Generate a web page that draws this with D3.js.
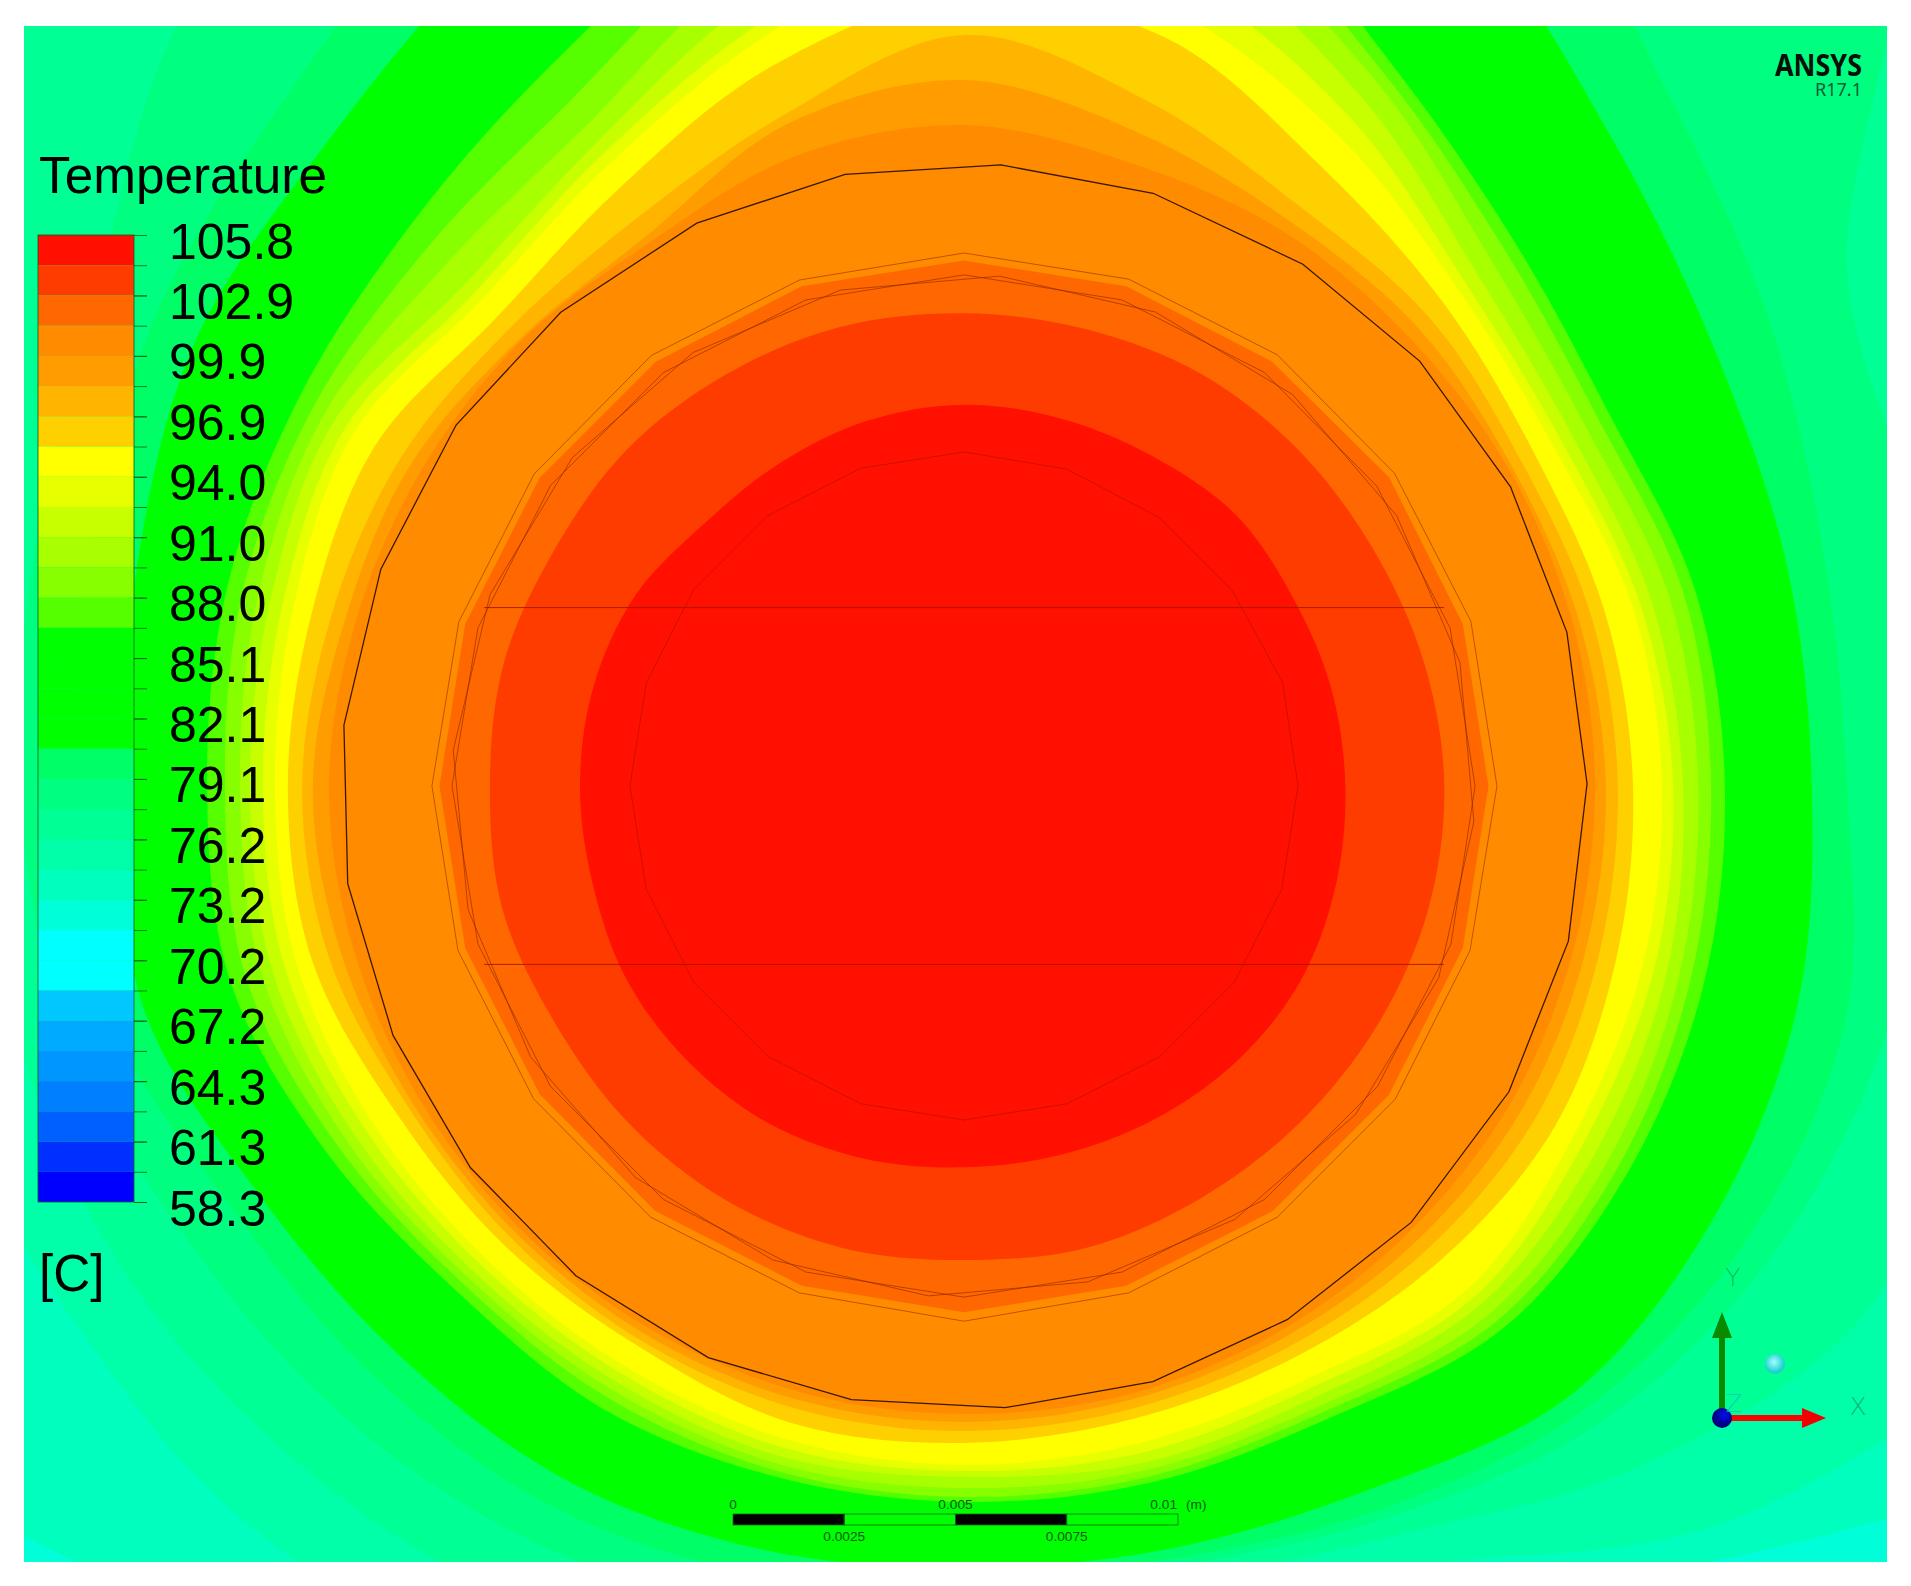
<!DOCTYPE html>
<html>
<head>
<meta charset="utf-8">
<script src="https://cdn.jsdelivr.net/npm/d3@7"></script>
<style>
  html, body { margin: 0; padding: 0; background: #fff; }
  svg { display: block; }
  text { font-family: "Liberation Sans", Arial, sans-serif; }
</style>
</head>
<body>
<svg id="chart" width="1911" height="1586"></svg>
<script>
// legend
const tickLabels = [105.8, 102.9, 99.9, 96.9, 94.0, 91.0, 88.0, 85.1, 82.1, 79.1, 76.2, 73.2, 70.2, 67.2, 64.3, 61.3, 58.3]
const bandColors = [
  "#ff1000", "#ff3c00", "#ff6800", "#ff8c00", "#ff9c00", "#ffb400", "#ffd000", "#ffff00",
  "#e8ff00", "#c8ff00", "#a8ff00", "#88ff00", "#55ff00", "#00ff00", "#00ff00", "#00ff00",
  "#00ff00", "#00ff66", "#00ff80", "#00ff94", "#00ffa8", "#00ffbe", "#00ffd8", "#00ffff",
  "#00ffff", "#00c8ff", "#00aaff", "#0096ff", "#0080ff", "#0060ff", "#0030ff", "#0000ff"]

// isotherm radii in mm from the axis, one value every 15 deg, clockwise from +Y
const r104 = [8.55,8.52,8.52,8.61,8.50,8.52,8.55,8.63,8.72,8.69,8.61,8.55,8.55,8.65,8.74,8.74,8.72,8.61,8.61,8.60,8.52,8.28,8.33,8.47]
const r103 = [10.60,10.60,10.66,10.63,10.60,10.68,10.77,10.77,10.71,10.66,10.66,10.71,10.63,10.71,10.71,10.66,10.60,10.71,10.63,10.68,10.60,10.68,10.66,10.66]
const r100 = [14.82,14.46,14.35,14.17,14.13,14.13,14.15,14.15,14.17,14.13,14.13,14.13,14.08,14.08,14.06,14.06,14.08,14.17,14.24,14.13,14.08,14.08,14.08,14.62]
const r98 = [15.83,15.16,14.62,14.46,14.22,14.28,14.39,14.42,14.46,14.39,14.30,14.26,14.26,14.26,14.22,14.19,14.26,14.46,14.60,14.37,14.35,14.13,14.24,15.36]
const r97 = [16.84,15.90,15.02,14.80,14.46,14.57,14.66,14.73,14.82,14.69,14.53,14.46,14.46,14.46,14.39,14.35,14.39,14.75,14.84,14.69,14.62,14.46,14.69,15.58]
const r95 = [17.71,17.38,16.03,15.25,14.80,14.89,15.00,15.13,15.29,15.07,14.80,14.69,14.73,14.80,14.53,14.57,14.69,15.13,15.16,15.13,15.25,14.84,15.47,16.70]
const r94 = [19.06,18.05,16.82,15.70,15.25,15.52,15.65,15.74,15.76,15.96,15.36,15.25,15.22,15.18,15.07,15.07,15.25,15.49,15.45,15.56,15.81,15.36,16.03,17.38]
const r92 = [19.62,18.72,17.31,15.92,15.47,15.70,15.90,16.01,16.03,16.19,15.58,15.47,15.36,15.38,15.25,15.25,15.47,15.76,15.72,15.81,16.03,15.58,16.30,17.71]
const r91 = [20.18,19.51,17.83,16.26,15.74,15.96,16.12,16.30,16.37,16.41,15.81,15.70,15.49,15.58,15.47,15.47,15.74,16.05,16.01,16.10,16.32,15.87,16.59,18.27]
const r89 = [20.74,20.18,18.34,16.70,16.10,16.37,16.46,16.59,16.70,16.70,16.03,15.87,15.74,15.76,15.67,15.65,15.96,16.30,16.23,16.39,16.59,16.48,17.04,18.95]
const r88 = [21.30,20.85,18.61,17.09,16.43,16.70,16.75,16.86,16.97,16.93,16.19,16.03,15.94,15.92,15.87,15.83,16.19,16.66,16.57,16.75,16.88,17.04,17.71,19.62]
const r86 = [21.86,21.52,18.90,17.38,16.70,16.97,17.06,17.17,17.22,17.15,16.37,16.17,16.05,16.05,16.14,16.05,16.48,17.02,16.97,17.11,17.26,17.65,18.61,20.29]
const r80 = [23.54,23.54,22.42,20.54,19.46,19.10,19.01,19.33,19.40,19.28,18.21,17.71,17.53,17.71,17.94,17.98,18.27,19.06,18.83,19.19,19.91,20.29,21.52,23.54]
const r79 = [24.66,24.66,24.66,22.20,20.85,19.96,19.80,20.45,20.29,19.73,18.72,17.94,17.83,18.27,18.61,18.72,18.95,19.84,19.96,20.29,20.96,21.64,23.09,24.66]
const r77 = [25.78,25.78,25.78,29.15,22.87,22.09,21.52,21.41,20.96,20.18,18.95,18.12,18.16,19.06,19.51,19.84,20.18,20.85,21.19,21.52,22.42,24.66,25.78,25.78]
const r76 = [28.03,28.03,28.03,31.39,29.15,29.15,26.91,23.32,23.43,21.52,19.39,18.50,18.61,19.96,20.85,21.30,21.75,21.97,22.42,23.54,25.78,31.39,28.03,28.03]
const r74 = [31.39,31.39,31.39,31.39,31.39,31.39,31.39,31.39,26.46,23.54,20.18,19.06,19.28,21.52,22.42,23.09,23.32,24.22,25.78,28.03,31.39,31.39,31.39,31.39]
const r73 = [33.63,33.63,33.63,33.63,33.63,33.63,33.63,33.63,29.15,24.44,20.74,19.96,20.18,23.54,24.66,25.78,29.15,33.63,33.63,33.63,33.63,33.63,33.63,33.63]

// solid outlines in mm, one radius per polygon vertex
const r101 = [11.78,11.78,11.76,11.78,11.76,11.76,11.76,11.78,11.78,11.78,11.80,11.78,11.78,11.76,11.76,11.76,11.76,11.76,11.76,11.78]
const casingAngles = [3.4,17.7,33,47,61.3,75.7,89.8,104.4,119.3,134.3,148.8,162.4,176.2,190.4,204.1,218.4,232.3,246.4,261,275.6,290.4,305.4,319.6,334.6,349]
const casingRadii = [13.95,13.95,13.95,13.97,13.97,13.95,13.97,13.99,14.01,14.01,13.99,14.01,13.97,13.99,14.04,14.01,13.99,13.97,13.99,13.97,13.95,13.97,13.95,13.97,13.97]
const sleeveRadii = [11.95,11.95,11.95,11.93,11.95,11.95,11.93,11.95,11.95,11.95,12.00,11.95,11.95,11.93,11.93,11.93,11.91,11.91,11.93,11.93]
const liningRadii = [11.46,11.46,11.46,11.44,11.46,11.46,11.48,11.46,11.46,11.46,11.46,11.46,11.46,11.46,11.46,11.48,11.46,11.46,11.46,11.46]
const coreRadii = [7.49,7.47,7.44,7.44,7.51,7.49,7.49,7.49,7.49,7.49,7.49,7.49,7.49,7.49,7.49,7.49,7.49,7.49,7.49,7.49]
const chordOffsets = [4.0, -4.0]
const chordHalfWidth = 10.76

const scaleBarTicks = [0, 0.0025, 0.005, 0.0075, 0.01]

const frame = {left: 24, right: 1887, top: 26, bottom: 1562}
const pxPerMm = 44.6
const centerX = 964, centerY = 786

const x = d3.scaleLinear().domain([(frame.left - centerX) / pxPerMm, (frame.right - centerX) / pxPerMm]).range([frame.left, frame.right])
const y = d3.scaleLinear().domain([(centerY - frame.top) / pxPerMm, (centerY - frame.bottom) / pxPerMm]).range([frame.top, frame.bottom])
const r = d3.scaleLinear().domain([0, 10]).range([0, 10 * pxPerMm])

const svg = d3.select("#chart")
svg.append("defs").append("clipPath").attr("id", "frame")
  .append("rect").attr("x", frame.left).attr("y", frame.top)
  .attr("width", frame.right - frame.left).attr("height", frame.bottom - frame.top)

const plot = svg.append("g").attr("clip-path", "url(#frame)")

// outermost colour fills the frame, the isotherms are stacked from cold to hot
plot.append("rect").attr("x", frame.left).attr("y", frame.top)
  .attr("width", frame.right - frame.left).attr("height", frame.bottom - frame.top)
  .attr("fill", bandColors[22])

const field = plot.append("g").attr("transform", `translate(${x(0)},${y(0)})`)

const toRad = Math.PI / 180
const smooth = d3.curveCatmullRomClosed.alpha(0.5)

function outline(radii, start = 0, angles = null, curve = d3.curveLinearClosed) {
  const step = 360 / radii.length
  return d3.lineRadial()
    .angle((d, i) => (angles ? angles[i] : start + i * step) * toRad)
    .radius(d => r(d))
    .curve(curve)(radii)
}

// the fill inside each isotherm is the colour of the next band towards the core
const stack = [
  [r73, 21], [r74, 20], [r76, 19], [r77, 18], [r79, 17], [r80, 13], [r86, 12], [r88, 11], [r89, 10],
  [r91, 9], [r92, 8], [r94, 7], [r95, 6], [r97, 5], [r98, 4], [r100, 3], [r101, 2], [r103, 1], [r104, 0]
]
field.selectAll("path.band")
  .data(stack)
  .join("path")
  .attr("class", "band")
  .attr("d", d => outline(d[0], 0, null, d[0] === r101 ? d3.curveLinearClosed : smooth))
  .attr("fill", d => bandColors[d[1]])

const solids = [
  {radii: coreRadii, start: 0, stroke: "#c01000", w: 0.8, o: 0.9},
  {radii: liningRadii, start: 0, stroke: "#902800", w: 0.7, o: 0.9},
  {radii: liningRadii, start: 4, stroke: "#902800", w: 0.7, o: 0.9},
  {radii: sleeveRadii, start: 0, stroke: "#a83c00", w: 0.8, o: 0.9},
  {radii: casingRadii, angles: casingAngles, stroke: "#301000", w: 1.3, o: 0.95}
]
field.selectAll("path.solid")
  .data(solids)
  .join("path")
  .attr("class", "solid")
  .attr("d", d => outline(d.radii, d.start, d.angles))
  .attr("fill", "none")
  .attr("stroke", d => d.stroke)
  .attr("stroke-width", d => d.w)
  .attr("stroke-opacity", d => d.o)

plot.selectAll("line.chord")
  .data(chordOffsets)
  .join("line")
  .attr("class", "chord")
  .attr("x1", x(-chordHalfWidth))
  .attr("x2", x(chordHalfWidth))
  .attr("y1", d => y(d))
  .attr("y2", d => y(d))
  .attr("stroke", "#a01800")
  .attr("stroke-width", 0.9)

// colour legend, evenly spaced: position by tick index
const legendY = d3.scaleLinear().domain([0, tickLabels.length - 1]).range([235, 1202])
const legendLeft = 38, legendRight = 134

const legend = svg.append("g")
legend.selectAll("rect.band")
  .data(bandColors)
  .join("rect")
  .attr("class", "band")
  .attr("x", legendLeft)
  .attr("width", legendRight - legendLeft)
  .attr("y", (d, i) => legendY(i / 2))
  .attr("height", legendY(0.5) - legendY(0))
  .attr("fill", d => d)
legend.append("rect")
  .attr("x", legendLeft).attr("y", legendY(0))
  .attr("width", legendRight - legendLeft).attr("height", legendY(16) - legendY(0))
  .attr("fill", "none").attr("stroke", "#0a5a20").attr("stroke-width", 0.8)

const majorAxis = d3.axisRight(legendY).tickValues(d3.range(tickLabels.length)).tickSize(13).tickPadding(22)
  .tickFormat(i => tickLabels[i].toFixed(1))
const minorAxis = d3.axisRight(legendY).tickValues(bandColors.map((c, i) => i / 2 + 0.5)).tickSize(13).tickFormat("")
legend.append("g").attr("transform", `translate(${legendRight},0)`).call(minorAxis)
  .call(g => g.select(".domain").remove())
  .call(g => g.selectAll("line").attr("stroke", "#0a5a20").attr("stroke-width", 0.8))
legend.append("g").attr("transform", `translate(${legendRight},0)`).call(majorAxis)
  .call(g => g.select(".domain").remove())
  .call(g => g.selectAll("line").attr("stroke", "#0a5a20").attr("stroke-width", 0.8))
  .call(g => g.selectAll("text").attr("dy", "0.46em").attr("fill", "#000")
    .style("font-family", '"Liberation Sans", Arial, sans-serif').style("font-size", "50px"))

svg.append("text").attr("x", 39).attr("y", 193).attr("font-size", 51.3).attr("fill", "#000").text("Temperature")
svg.append("text").attr("x", 39).attr("y", 1291).attr("font-size", 51.3).attr("fill", "#000").text("[C]")

// logo
svg.append("text").attr("x", 1775).attr("y", 76).attr("textLength", 87).attr("lengthAdjust", "spacingAndGlyphs")
  .style("font-family", '"Noto Sans", sans-serif').attr("font-weight", 700).attr("font-size", 31).attr("fill", "#0a0f0a").text("ANSYS")
svg.append("text").attr("x", 1815).attr("y", 96).attr("textLength", 47).attr("lengthAdjust", "spacingAndGlyphs")
  .style("font-family", '"Noto Sans", sans-serif').attr("font-size", 18).attr("fill", "#0b5a38").text("R17.1")

// scale bar
const barX = d3.scaleLinear().domain([0, 0.01]).range([733, 1178])
const bar = svg.append("g")
bar.selectAll("rect")
  .data(d3.pairs(scaleBarTicks))
  .join("rect")
  .attr("x", d => barX(d[0]))
  .attr("y", 1514)
  .attr("width", d => barX(d[1]) - barX(d[0]))
  .attr("height", 11)
  .attr("fill", (d, i) => i % 2 ? "none" : "#000")
  .attr("stroke", "#0a6a14")
  .attr("stroke-width", 0.8)
const barTextColor = "#0a5a12", barTextSize = 13.7
bar.selectAll("text")
  .data(scaleBarTicks)
  .join("text")
  .attr("x", d => d === 0.01 ? barX(d) - 1 : barX(d))
  .attr("y", (d, i) => i % 2 ? 1541 : 1509)
  .attr("text-anchor", d => d === 0.01 ? "end" : "middle")
  .attr("font-size", barTextSize)
  .attr("fill", barTextColor)
  .text(d => d3.format("~g")(d))
bar.append("text").attr("x", 1186).attr("y", 1509).attr("font-size", barTextSize).attr("fill", barTextColor).text("(m)")

// triad
const triad = svg.append("g")
triad.append("line").attr("x1", 1722).attr("x2", 1722).attr("y1", 1418).attr("y2", 1336)
  .attr("stroke", "#0a8a00").attr("stroke-width", 6)
triad.append("path").attr("d", d3.line()([[1712, 1338], [1722, 1312], [1732, 1338]]) + "Z").attr("fill", "#0a8a00")
triad.append("line").attr("x1", 1722).attr("x2", 1804).attr("y1", 1418).attr("y2", 1418)
  .attr("stroke", "#ff0000").attr("stroke-width", 6)
triad.append("path").attr("d", d3.line()([[1802, 1408], [1826, 1418], [1802, 1428]]) + "Z").attr("fill", "#f00000")
const sphereDefs = svg.select("defs")
const blueGrad = sphereDefs.append("radialGradient").attr("id", "blueBall").attr("cx", "0.6").attr("cy", "0.35")
blueGrad.append("stop").attr("offset", "0").attr("stop-color", "#0010f0")
blueGrad.append("stop").attr("offset", "1").attr("stop-color", "#000080")
const cyanGrad = sphereDefs.append("radialGradient").attr("id", "cyanBall").attr("cx", "0.45").attr("cy", "0.4")
cyanGrad.append("stop").attr("offset", "0").attr("stop-color", "#a0ffff")
cyanGrad.append("stop").attr("offset", "1").attr("stop-color", "#20d0d0")
triad.append("circle").attr("cx", 1722).attr("cy", 1418).attr("r", 10).attr("fill", "url(#blueBall)")
triad.append("circle").attr("cx", 1775).attr("cy", 1364).attr("r", 10).attr("fill", "url(#cyanBall)")
const triadLabels = [["Y", 1733, 1286, "#10b050"], ["X", 1858, 1415, "#10a070"], ["Z", 1734, 1412, "#10c0c0"]]
triad.selectAll("text")
  .data(triadLabels)
  .join("text")
  .attr("x", d => d[1]).attr("y", d => d[2])
  .attr("text-anchor", "middle")
  .attr("font-size", 25)
  .style("font-family", '"DejaVu Sans", sans-serif').attr("font-weight", 200)
  .attr("fill", d => d[3])
  .attr("fill-opacity", 0.8)
  .text(d => d[0])
</script>
</body>
</html>
